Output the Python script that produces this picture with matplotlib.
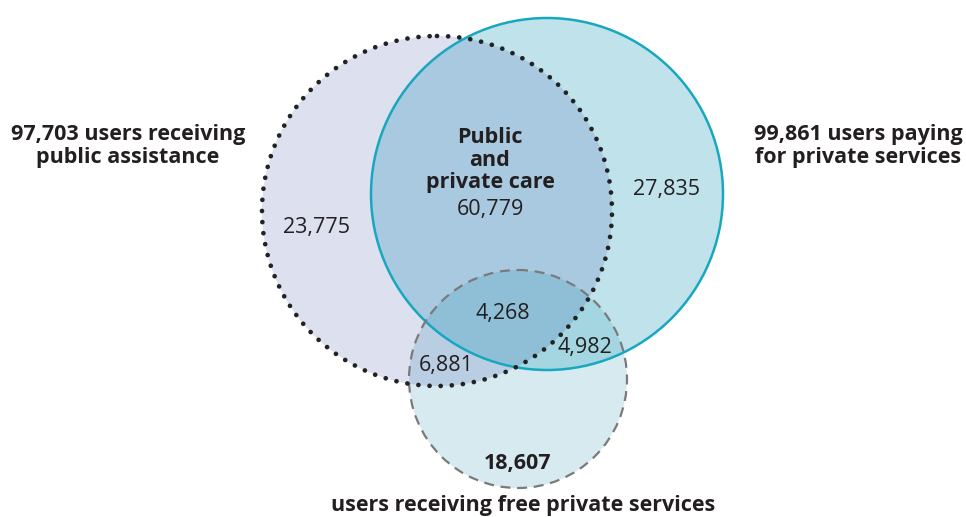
import matplotlib
matplotlib.use("Agg")
import matplotlib.pyplot as plt
from matplotlib.patches import Circle
import numpy as np
from matplotlib.colors import to_rgba

plt.rcParams['font.family'] = ['Open Sans', 'DejaVu Sans']

# Data
set_labels = ["97,703 users receiving\npublic assistance",
              "99,861 users paying\nfor private services",
              "users receiving free private services"]
region_labels = ["public_only", "private_only", "public_private", "all_three",
                 "public_free", "private_free", "free_only"]
region_values = ["23,775", "27,835", "60,779", "4,268", "6,881", "4,982", "18,607"]

fig = plt.figure(figsize=(9.66, 5.17), dpi=100)
ax = fig.add_axes([0, 0, 1, 1])

# circle geometry (pixel layout)
cA = (437, 211); rA = 175   # public assistance (dotted)
cB = (547, 194); rB = 176   # private paying (teal)
cC = (518, 379); rC = 109   # free private (dashed)

colA = '#dce0ef'
colB = '#c0e2ea'
colC = '#d6eaf0'
colAB = '#a8c9df'
colBC = '#a3d6e0'
colAC = '#b9cde3'
colABC = '#8fbfd6'

def circ(c, r, **kw):
    p = Circle(c, r, **kw)
    ax.add_patch(p)
    return p

circ(cA, rA, facecolor=colA, edgecolor='none', zorder=1)
circ(cB, rB, facecolor=colB, edgecolor='none', zorder=1)
circ(cC, rC, facecolor=colC, edgecolor='none', zorder=1)

clipA = Circle(cA, rA, transform=ax.transData)
clipB = Circle(cB, rB, transform=ax.transData)

p = circ(cB, rB, facecolor=colAB, edgecolor='none', zorder=2); p.set_clip_path(clipA)
p = circ(cC, rC, facecolor=colBC, edgecolor='none', zorder=2); p.set_clip_path(clipB)
p = circ(cC, rC, facecolor=colAC, edgecolor='none', zorder=2); p.set_clip_path(clipA)

# triple intersection via mask
ys, xs = np.mgrid[0:517, 0:966] + 0.5
mask = (((xs-cA[0])**2 + (ys-cA[1])**2) <= rA**2) & \
       (((xs-cB[0])**2 + (ys-cB[1])**2) <= rB**2) & \
       (((xs-cC[0])**2 + (ys-cC[1])**2) <= rC**2)
img = np.zeros((517, 966, 4))
img[mask] = to_rgba(colABC)
ax.imshow(img, extent=(0, 966, 517, 0), zorder=3, interpolation='nearest')

# outlines
circ(cB, rB, facecolor='none', edgecolor='#17a8c0', linewidth=1.8, zorder=5)
circ(cC, rC, facecolor='none', edgecolor='#7a7a7a', linewidth=1.6,
     linestyle=(0, (4.5, 3.0)), zorder=5)
circ(cA, rA, facecolor='none', edgecolor='#222222', linewidth=3.4,
     linestyle=(0, (0.01, 2.35)), capstyle='round', zorder=6)

ax.set_xlim(0, 966)
ax.set_ylim(517, 0)
ax.set_aspect('equal')
ax.axis('off')

tc = '#231f20'
fs = 15.5
# set labels
ax.text(128, 146, set_labels[0], ha='center', va='center', fontsize=fs,
        fontweight='bold', color=tc, linespacing=1.15, zorder=7)
ax.text(858, 146, set_labels[1], ha='center', va='center', fontsize=fs,
        fontweight='bold', color=tc, linespacing=1.15, zorder=7)
ax.text(523, 505, set_labels[2], ha='center', va='center', fontsize=fs,
        fontweight='bold', color=tc, zorder=7)

# region values
ax.text(490, 160, "Public\nand\nprivate care", ha='center', va='center',
        fontsize=fs, fontweight='bold', color=tc, linespacing=1.1, zorder=7)
ax.text(490, 209, region_values[2], ha='center', va='center', fontsize=fs,
        color=tc, zorder=7)
ax.text(316, 228, region_values[0], ha='center', va='center', fontsize=fs, color=tc, zorder=7)
ax.text(666, 189, region_values[1], ha='center', va='center', fontsize=fs, color=tc, zorder=7)
ax.text(503, 314, region_values[3], ha='center', va='center', fontsize=fs, color=tc, zorder=7)
ax.text(446, 365, region_values[4], ha='center', va='center', fontsize=fs, color=tc, zorder=7)
ax.text(585, 347, region_values[5], ha='center', va='center', fontsize=fs, color=tc, zorder=7)
ax.text(518, 463, region_values[6], ha='center', va='center', fontsize=fs,
        fontweight='bold', color=tc, zorder=7)

fig.savefig('out.png', dpi=100, facecolor='white')
